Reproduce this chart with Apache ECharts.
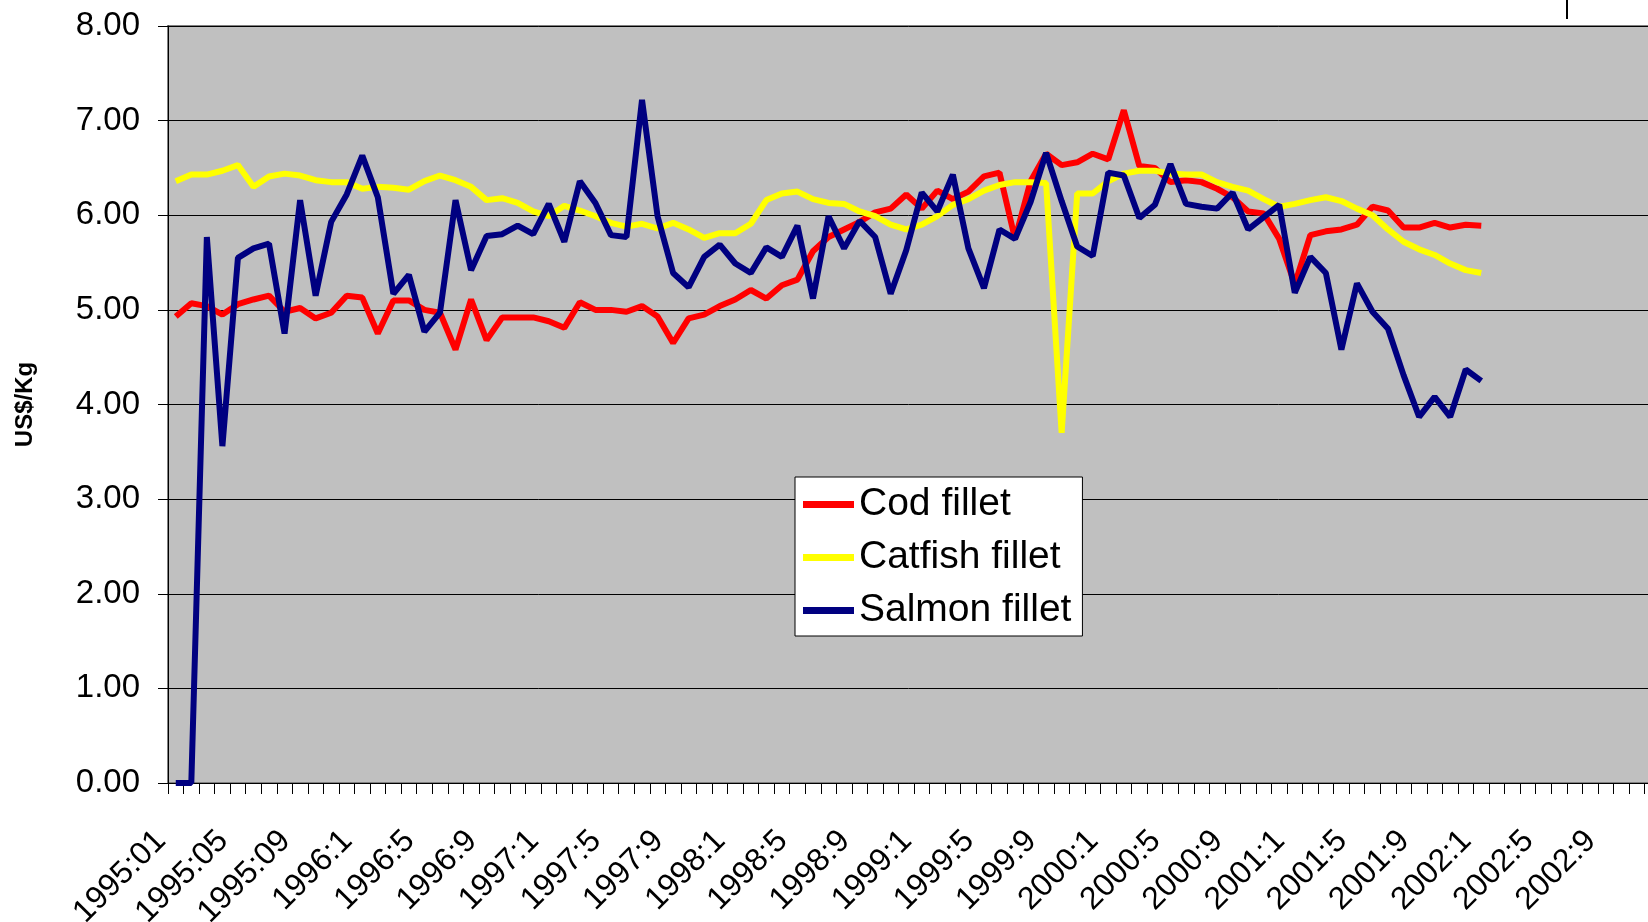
<!DOCTYPE html>
<html>
<head>
<meta charset="utf-8">
<script src="https://cdn.jsdelivr.net/npm/echarts@6/dist/echarts.min.js"></script>
<style>
html,body{margin:0;padding:0;background:#fff;}
#chart{width:1648px;height:922px;}
</style>
</head>
<body>
<div id="chart"></div>
<script>
const categories = [
"1995:01","1995:02","1995:03","1995:04","1995:05","1995:06","1995:07","1995:08","1995:09","1995:10","1995:11","1995:12",
"1996:1","1996:2","1996:3","1996:4","1996:5","1996:6","1996:7","1996:8","1996:9","1996:10","1996:11","1996:12",
"1997:1","1997:2","1997:3","1997:4","1997:5","1997:6","1997:7","1997:8","1997:9","1997:10","1997:11","1997:12",
"1998:1","1998:2","1998:3","1998:4","1998:5","1998:6","1998:7","1998:8","1998:9","1998:10","1998:11","1998:12",
"1999:1","1999:2","1999:3","1999:4","1999:5","1999:6","1999:7","1999:8","1999:9","1999:10","1999:11","1999:12",
"2000:1","2000:2","2000:3","2000:4","2000:5","2000:6","2000:7","2000:8","2000:9","2000:10","2000:11","2000:12",
"2001:1","2001:2","2001:3","2001:4","2001:5","2001:6","2001:7","2001:8","2001:9","2001:10","2001:11","2001:12",
"2002:1","2002:2","2002:3","2002:4","2002:5","2002:6","2002:7","2002:8","2002:9","2002:10","2002:11","2002:12"
];

const codFillet = [4.93,5.07,5.04,4.95,5.06,5.11,5.15,4.98,5.02,4.91,
4.97,5.15,5.13,4.75,5.10,5.10,5.00,4.97,4.58,5.11,
4.68,4.92,4.92,4.92,4.88,4.81,5.08,5.00,5.00,4.98,
5.04,4.93,4.65,4.91,4.95,5.04,5.11,5.21,5.12,5.26,
5.32,5.62,5.77,5.85,5.93,6.03,6.07,6.22,6.07,6.26,
6.17,6.25,6.41,6.45,5.75,6.36,6.65,6.53,6.56,6.65,
6.59,7.11,6.52,6.50,6.35,6.37,6.35,6.28,6.19,6.04,
6.02,5.75,5.27,5.79,5.83,5.85,5.90,6.09,6.05,5.87,
5.87,5.92,5.87,5.90,5.89];

const catfishFillet = [6.36,6.43,6.43,6.47,6.53,6.30,6.41,6.44,6.42,6.37,
6.35,6.35,6.28,6.30,6.29,6.27,6.36,6.42,6.37,6.30,
6.16,6.18,6.13,6.04,5.99,6.10,6.05,5.99,5.92,5.88,
5.91,5.86,5.92,5.85,5.76,5.81,5.81,5.91,6.16,6.23,
6.25,6.17,6.13,6.12,6.04,5.99,5.90,5.85,5.90,5.99,
6.11,6.17,6.26,6.32,6.35,6.35,6.34,3.70,6.23,6.23,
6.36,6.44,6.47,6.47,6.44,6.43,6.43,6.35,6.30,6.26,
6.17,6.09,6.12,6.16,6.19,6.15,6.07,6.00,5.85,5.72,
5.64,5.58,5.49,5.42,5.39];

const salmonFillet = [0,0,5.77,3.56,5.55,5.65,5.70,4.75,6.16,5.15,
5.93,6.22,6.63,6.19,5.17,5.37,4.77,4.97,6.16,5.42,
5.78,5.80,5.89,5.80,6.12,5.72,6.36,6.13,5.79,5.77,
7.22,5.99,5.39,5.24,5.56,5.69,5.49,5.39,5.66,5.56,
5.89,5.12,5.99,5.65,5.94,5.77,5.17,5.63,6.24,6.04,
6.43,5.65,5.23,5.85,5.75,6.14,6.66,6.15,5.67,5.57,
6.45,6.42,5.97,6.11,6.54,6.12,6.09,6.07,6.24,5.85,
5.98,6.11,5.18,5.56,5.39,4.58,5.28,4.98,4.80,4.31,
3.87,4.08,3.87,4.37,4.25];

const seriesNames = ["Cod fillet","Catfish fillet","Salmon fillet"];
const yAxisTitle = "US$/Kg";

const FONT = "'Liberation Sans', Arial, sans-serif";
const chart = echarts.init(document.getElementById('chart'), null, {renderer:'canvas'});
chart.setOption({
  animation: false,
  backgroundColor: '#ffffff',
  textStyle: {fontFamily: FONT, color: '#000'},
  grid: {
    left: 168, top: 26, width: 1492, height: 757,
    show: true, backgroundColor: '#C0C0C0', borderColor: '#808080', borderWidth: 2,
    containLabel: false,
    outerBoundsMode: 'none'
  },
  legend: {
    orient: 'vertical',
    left: 795, top: 477,
    backgroundColor: '#ffffff',
    borderColor: '#000000', borderWidth: 1,
    padding: [8, 11, 6, 8],
    itemGap: 14,
    itemWidth: 51, itemHeight: 7,
    icon: 'rect',
    textStyle: {fontFamily: FONT, fontSize: 39, color: '#000', lineHeight: 39},
    data: seriesNames
  },
  xAxis: {
    type: 'category',
    data: categories,
    boundaryGap: true,
    axisLine: {show: true, lineStyle: {color: '#000', width: 1}},
    axisTick: {show: true, interval: 0, length: 11, inside: false, lineStyle: {color: '#000'}},
    axisLabel: {interval: 3, rotate: 45, margin: 38, padding: [0, 21, 0, 0], fontSize: 32, fontFamily: FONT, color: '#000'},
    splitLine: {show: false}
  },
  yAxis: {
    type: 'value',
    min: 0, max: 8, interval: 1,
    name: yAxisTitle,
    nameLocation: 'middle',
    nameGap: 131,
    nameTextStyle: {fontFamily: FONT, fontSize: 24, fontWeight: 'bold', color: '#000'},
    axisLine: {show: true, lineStyle: {color: '#000', width: 1}},
    axisTick: {show: true, length: 10, lineStyle: {color: '#000'}},
    axisLabel: {margin: 28, fontSize: 33, fontFamily: FONT, color: '#000', formatter: v => v.toFixed(2)},
    splitLine: {show: true, lineStyle: {color: '#000', width: 1}}
  },
  series: [
    {name: seriesNames[0], type: 'line', data: codFillet, symbol: 'none', color: '#FF0000', lineStyle: {width: 6, color: '#FF0000'}},
    {name: seriesNames[1], type: 'line', data: catfishFillet, symbol: 'none', color: '#FFFF00', lineStyle: {width: 6, color: '#FFFF00'}},
    {name: seriesNames[2], type: 'line', data: salmonFillet, symbol: 'none', color: '#000080', lineStyle: {width: 6, color: '#000080'}}
  ],
  graphic: [
    {type: 'rect', left: 1566, top: 0, shape: {width: 2, height: 19}, style: {fill: '#000'}}
  ]
});
</script>
</body>
</html>
